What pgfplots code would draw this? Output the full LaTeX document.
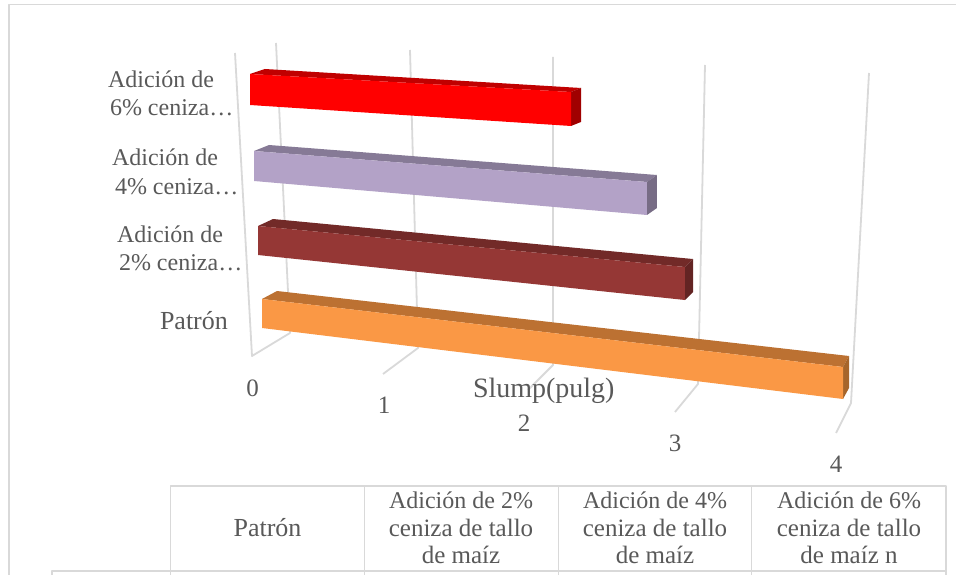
\documentclass[border=0pt]{standalone}
\usepackage{fontspec}
\setmainfont{Liberation Serif}
\usepackage{pgfplots}
\pgfplotsset{compat=1.18}

\definecolor{gridgray}{HTML}{D9D9D9}
\definecolor{txt}{HTML}{595959}
\definecolor{frontR}{HTML}{FF0000}
\definecolor{topR}{HTML}{C00000}
\definecolor{endR}{HTML}{A00000}
\definecolor{frontL}{HTML}{B3A2C7}
\definecolor{topL}{HTML}{867A96}
\definecolor{endL}{HTML}{776C85}
\definecolor{frontB}{HTML}{953735}
\definecolor{topB}{HTML}{722A28}
\definecolor{endB}{HTML}{632423}
\definecolor{frontO}{HTML}{FA9845}
\definecolor{topO}{HTML}{BC7132}
\definecolor{endO}{HTML}{A6652B}

\tikzset{
  lab/.style={inner sep=0pt,outer sep=0pt,text=txt,font=\fontsize{24}{28}\selectfont},
  labw/.style={lab,font=\fontsize{25}{28}\selectfont},
  pat/.style={lab,font=\fontsize{26}{28}\selectfont},
}

% the picture is skewed 3D: each bar has its own pixels per pulgada and slope
% args: x0 y0 ux uy h0 hv dly dvx dvy, then tag and value
\newcommand\slumpbar[9]{%
  \def\exprx{#1+#3*\thisrow{v}+\thisrow{d}*(15+#8*\thisrow{v})}%
  \def\expry{#2+#4*\thisrow{v}+\thisrow{h}*(#5+#6*\thisrow{v})+\thisrow{d}*(#7+#9*\thisrow{v})}%
  \slumpfaces}
\newcommand\slumpfaces[2]{%
  \addplot[fill=top#1,draw=none] table[row sep=\\,x expr=\exprx,y expr=\expry]
    {v h d\\ 0 0 0\\ #2 0 0\\ #2 0 1\\ 0 0 1\\};
  \addplot[fill=end#1,draw=none] table[row sep=\\,x expr=\exprx,y expr=\expry]
    {v h d\\ #2 0 0\\ #2 0 1\\ #2 1 1\\ #2 1 0\\};
  \addplot[fill=front#1,draw=none] table[row sep=\\,x expr=\exprx,y expr=\expry]
    {v h d\\ 0 0 0\\ #2 0 0\\ #2 1 0\\ 0 1 0\\};
}

\begin{document}
\begin{tikzpicture}
\begin{axis}[
  scale only axis,
  width=956pt, height=575pt,
  xmin=0, xmax=956, ymin=0, ymax=575,
  y dir=reverse,
  axis lines=none,
  clip=true,
  every axis plot/.append style={line join=round},
]
\addplot[fill=white,draw=none] coordinates {(0,0) (956,0) (956,575) (0,575)};

% outer frame of the chart
\addplot[gridgray,line width=1.8pt] coordinates {(956,4.5) (9,4.5) (9,575)};

% gridlines with the floor ticks
\addplot[gridgray,line width=1.8pt] coordinates {(235,53) (252,356) (290,333) (276,43)};
\addplot[gridgray,line width=1.8pt] coordinates {(410,50) (418,348) (383,374)};
\addplot[gridgray,line width=1.8pt] coordinates {(553,57) (553,365) (528,390)};
\addplot[gridgray,line width=1.8pt] coordinates {(705,65) (698,384) (675,412)};
\addplot[gridgray,line width=1.8pt] coordinates {(869,73) (851,403) (836,433)};

% Slump(pulg) values: 2.25, 2.75, 3, 4
\slumpbar{250}{74}{142.67}{8}{31}{1.33}{-5}{-2.22}{0.44}{R}{2.25}
\slumpbar{254}{151}{142.9}{11.27}{30}{1.09}{-6}{-1.82}{-0.36}{L}{2.75}
\slumpbar{258}{226}{142.33}{13.67}{29}{1.33}{-7}{-2.33}{-0.33}{B}{3}
\slumpbar{262}{299}{145.25}{17}{29}{0.75}{-8}{-2.25}{-0.75}{O}{4}

% data table under the chart
\addplot[gridgray,line width=1.8pt] coordinates {(170.5,575) (170.5,486) (946,486) (946,575)};
\addplot[gridgray,line width=1.8pt] coordinates {(52,575) (52,571) (946,571)};
\addplot[gridgray,line width=1.8pt] coordinates {(364.5,486) (364.5,575)};
\addplot[gridgray,line width=1.8pt] coordinates {(558.5,486) (558.5,575)};
\addplot[gridgray,line width=1.8pt] coordinates {(751.5,486) (751.5,575)};

% category labels
\node[lab,anchor=base west] at (axis cs:108,88) {Adición de};
\node[lab,anchor=base west] at (axis cs:110,116) {6\% ceniza…};
\node[lab,anchor=base west] at (axis cs:112,166) {Adición de};
\node[lab,anchor=base west] at (axis cs:115,194) {4\% ceniza…};
\node[lab,anchor=base west] at (axis cs:117,242) {Adición de};
\node[lab,anchor=base west] at (axis cs:119,270) {2\% ceniza…};
\node[pat,anchor=base west] at (axis cs:160,329) {Patrón};

% value ticks
\node[labw,anchor=base] at (axis cs:252.5,396) {0};
\node[labw,anchor=base] at (axis cs:384,413) {1};
\node[labw,anchor=base] at (axis cs:524,431) {2};
\node[labw,anchor=base] at (axis cs:675,451) {3};
\node[labw,anchor=base] at (axis cs:836,472) {4};
\node[lab,anchor=base west,font=\fontsize{28}{30}\selectfont] at (axis cs:473,397) {Slump(pulg)};

% table header
\node[pat,anchor=base] at (axis cs:267.5,536) {Patrón};
\node[lab,anchor=base] at (axis cs:461,508) {Adición de 2\%};
\node[labw,anchor=base] at (axis cs:461,536) {ceniza de tallo};
\node[labw,anchor=base] at (axis cs:461,563) {de maíz};
\node[lab,anchor=base] at (axis cs:655,508) {Adición de 4\%};
\node[labw,anchor=base] at (axis cs:655,536) {ceniza de tallo};
\node[labw,anchor=base] at (axis cs:655,563) {de maíz};
\node[lab,anchor=base] at (axis cs:849,508) {Adición de 6\%};
\node[labw,anchor=base] at (axis cs:849,536) {ceniza de tallo};
\node[labw,anchor=base] at (axis cs:849,563) {de maíz n};
\end{axis}
\end{tikzpicture}
\end{document}
